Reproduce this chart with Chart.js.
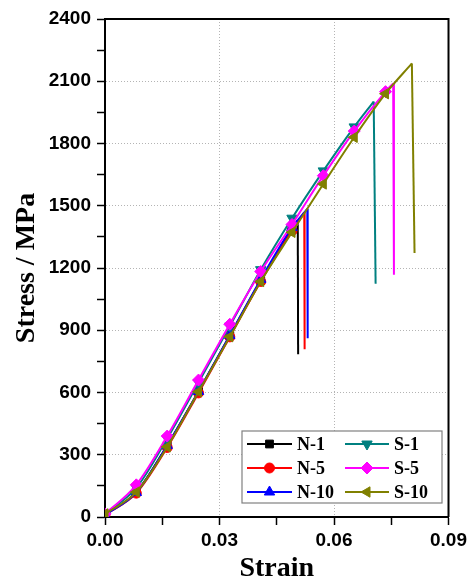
<!DOCTYPE html>
<html><head><meta charset="utf-8">
<script src="https://cdn.jsdelivr.net/npm/chart.js@4"></script>
<style>html,body{margin:0;padding:0;background:#fff;}#wrap{width:471px;height:584px;position:relative;}</style>
</head><body><div id="wrap"><canvas id="c" width="471" height="584"></canvas></div>
<script>
// ---- data (strain, stress / MPa); last point of each curve = fracture peak ----
const seriesNames = ['N-1', 'N-5', 'N-10', 'S-1', 'S-5', 'S-10'];

const strainN1 = [0, 0.0082, 0.0163, 0.0245, 0.0327, 0.0408, 0.0490, 0.0505];
const stressN1 = [12, 120, 345, 605, 875, 1140, 1385, 1430];
const dropN1 = [0.0506, 784];

const strainN5 = [0, 0.0082, 0.0163, 0.0245, 0.0327, 0.0408, 0.0490, 0.0522];
const stressN5 = [10, 115, 335, 598, 868, 1135, 1380, 1468];
const dropN5 = [0.0523, 808];

const strainN10 = [0, 0.0082, 0.0163, 0.0245, 0.0327, 0.0408, 0.0490, 0.0530];
const stressN10 = [10, 118, 345, 605, 875, 1145, 1395, 1485];
const dropN10 = [0.0531, 861];

const strainS1 = [0, 0.0082, 0.0163, 0.0245, 0.0327, 0.0408, 0.0490, 0.0572, 0.0653, 0.0704];
const stressS1 = [15, 140, 378, 648, 920, 1192, 1440, 1668, 1880, 2002];
const dropS1 = [0.0709, 1124];

const strainS5 = [0, 0.0082, 0.0163, 0.0245, 0.0327, 0.0408, 0.0490, 0.0572, 0.0653, 0.0735, 0.0755];
const stressS5 = [15, 155, 390, 660, 929, 1183, 1410, 1645, 1860, 2050, 2090];
const dropS5 = [0.0757, 1167];

const strainS10 = [0, 0.0082, 0.0163, 0.0245, 0.0327, 0.0408, 0.0490, 0.0572, 0.0653, 0.0735, 0.0804];
const stressS10 = [15, 120, 338, 604, 869, 1135, 1372, 1605, 1830, 2040, 2186];
const dropS10 = [0.0811, 1272];

const xTickLabels = ['0.00', '0.03', '0.06', '0.09'];
const yTickLabels = ['0', '300', '600', '900', '1200', '1500', '1800', '2100', '2400'];

// ---- styles ----
const colors = ['#000000', '#ff0000', '#0000ff', '#008080', '#ff00ff', '#808000'];
const pStyles = ['rect', 'circle', 'triangle', 'triangle', 'rectRot', 'triangle'];
const pRot = [0, 0, 0, 180, 0, -90];
const pRad = [5.5, 5, 6, 6, 6, 6];
const drawOrder = [5, 4, 3, 2, 1, 0];

const strains = [strainN1, strainN5, strainN10, strainS1, strainS5, strainS10];
const stresses = [stressN1, stressN5, stressN10, stressS1, stressS5, stressS10];
const drops = [dropN1, dropN5, dropN10, dropS1, dropS5, dropS10];

const datasets = [];
seriesNames.forEach((name, i) => {
  const pts = strains[i].map((x, k) => ({x: x, y: stresses[i][k]}));
  const n = pts.length;
  datasets.push({
    label: name, data: pts, borderColor: colors[i], backgroundColor: colors[i],
    borderWidth: 2, cubicInterpolationMode: 'monotone', order: drawOrder[i],
    pointStyle: pStyles[i], rotation: pRot[i],
    pointRadius: pts.map((_, k) => k < n - 1 ? pRad[i] : 0),
    pointBorderColor: colors[i], pointBackgroundColor: colors[i], pointBorderWidth: 1
  });
  const last = pts[n - 1];
  datasets.push({
    label: name + ' fracture', data: [last, {x: drops[i][0], y: drops[i][1]}],
    borderColor: colors[i], borderWidth: 2, tension: 0, pointRadius: 0, order: drawOrder[i]
  });
});

const near = (v, step) => Math.abs(v / step - Math.round(v / step)) < 1e-6;
const gridCol = '#b4b4b4';

const framePlugin = {
  id: 'frame',
  afterDatasetsDraw(chart) {
    const {ctx, chartArea: a} = chart;
    ctx.save();
    ctx.strokeStyle = '#000'; ctx.lineWidth = 2;
    ctx.beginPath();
    ctx.moveTo(a.left, a.top); ctx.lineTo(a.right, a.top); ctx.lineTo(a.right, a.bottom);
    ctx.stroke();
    ctx.restore();
  }
};

const legendPlugin = {
  id: 'boxLegend',
  afterDraw(chart) {
    const ctx = chart.ctx;
    const bx = 242, by = 431, bw = 200, bh = 72;
    ctx.save();
    ctx.fillStyle = '#fff'; ctx.fillRect(bx, by, bw, bh);
    ctx.strokeStyle = '#808080'; ctx.lineWidth = 1.2; ctx.strokeRect(bx, by, bw, bh);
    const rows = [444, 468, 492];
    const cols = [{l: 247, r: 292, t: 297}, {l: 345, r: 389, t: 394}];
    ctx.font = 'bold 18px "Liberation Serif", "Times New Roman", serif';
    ctx.textBaseline = 'middle'; ctx.textAlign = 'left';
    seriesNames.forEach((name, i) => {
      const c = cols[i < 3 ? 0 : 1];
      const y = rows[i % 3];
      ctx.strokeStyle = colors[i]; ctx.lineWidth = 2;
      ctx.beginPath(); ctx.moveTo(c.l, y); ctx.lineTo(c.r, y); ctx.stroke();
      ctx.fillStyle = colors[i]; ctx.strokeStyle = colors[i]; ctx.lineWidth = 1;
      Chart.helpers.drawPoint(ctx, {pointStyle: pStyles[i], rotation: pRot[i], radius: pRad[i], borderWidth: 1}, (c.l + c.r) / 2, y);
      ctx.fillStyle = '#000';
      ctx.fillText(name, c.t, y + 1);
    });
    ctx.restore();
  }
};

const tickFont = {family: '"Liberation Sans", Arial, sans-serif', size: 19, weight: 'bold'};
const titleFont = {family: '"Liberation Serif", "Times New Roman", serif', size: 28, weight: 'bold', lineHeight: 1};

new Chart(document.getElementById('c'), {
  type: 'line',
  data: {datasets: datasets},
  options: {
    responsive: false, animation: false, devicePixelRatio: 1,
    layout: {padding: {left: 0, top: 19, right: 22, bottom: 0}},
    plugins: {legend: {display: false}, tooltip: {enabled: false}},
    scales: {
      x: {
        type: 'linear', min: 0, max: 0.09,
        afterFit: s => { s.height = 67; },
        border: {display: true, color: '#000', width: 2, dash: [1, 2]},
        grid: {
          color: c => (c.tick && near(c.tick.value, 0.03) && c.tick.value > 0.001 && c.tick.value < 0.089) ? gridCol : 'rgba(0,0,0,0)',
          lineWidth: 1, tickColor: '#000', tickLength: 8, tickWidth: 1.5
        },
        ticks: {
          stepSize: 0.015, autoSkip: false, maxRotation: 0, padding: 4, color: '#000', font: tickFont,
          callback: v => near(v, 0.03) ? xTickLabels[Math.round(v / 0.03)] : ''
        },
        title: {display: true, text: 'Strain', color: '#000', font: titleFont, padding: {top: 0, bottom: 1}}
      },
      y: {
        type: 'linear', min: 0, max: 2400,
        afterFit: s => { s.width = 105; },
        border: {display: true, color: '#000', width: 2, dash: [1, 2]},
        grid: {
          color: c => (c.tick && c.tick.value % 300 === 0 && c.tick.value > 0 && c.tick.value < 2400) ? gridCol : 'rgba(0,0,0,0)',
          lineWidth: 1, tickColor: '#000', tickLength: 8, tickWidth: 1.5
        },
        ticks: {
          stepSize: 150, autoSkip: false, padding: 6, color: '#000', font: tickFont,
          callback: v => v % 300 === 0 ? yTickLabels[v / 300] : ''
        },
        title: {display: true, text: 'Stress / MPa', color: '#000', font: titleFont, padding: {top: 13, bottom: 0}}
      }
    }
  },
  plugins: [framePlugin, legendPlugin]
});
</script></body></html>
